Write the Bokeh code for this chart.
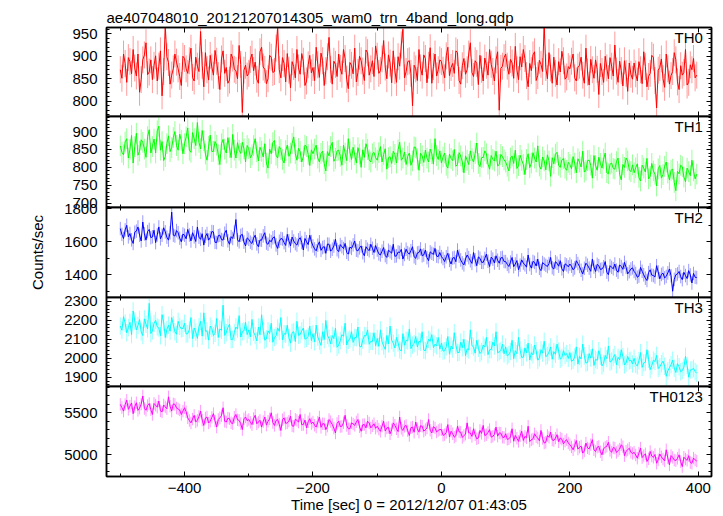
from bokeh.plotting import figure
from bokeh.layouts import column
from bokeh.models import (Range1d, LinearAxis, SingleIntervalTicker, Label, Title,
                          ColumnDataSource, CustomJSTickFormatter)
from bokeh.embed import file_html
from bokeh.resources import INLINE

title_text = "ae407048010_20121207014305_wam0_trn_4band_long.qdp"
x_label = "Time [sec] 0 = 2012/12/07 01:43:05"
y_label = "Counts/sec"

# bin centres, 2.5 s apart
time = [t / 2 for t in range(-1000, 800, 5)]

th0 = [870, 851, 905, 884, 842, 897, 888, 861, 915, 874, 856, 905, 820, 848, 892, 903, 930, 859, 865, 892,
       848, 880, 901, 845, 878, 912, 812, 866, 968, 899, 886, 838, 858, 872, 905, 887, 872, 855, 835, 900,
       895, 872, 862, 890, 918, 853, 845, 898, 878, 866, 955, 880, 832, 908, 870, 847, 902, 876, 858, 913,
       889, 857, 826, 894, 912, 862, 875, 840, 847, 905, 896, 871, 868, 850, 924, 882, 775, 869, 880, 856,
       862, 893, 905, 868, 887, 849, 840, 910, 920, 876, 871, 839, 850, 902, 898, 864, 866, 918, 965, 870,
       852, 897, 884, 843, 906, 869, 830, 888, 877, 852, 915, 874, 860, 906, 889, 835, 845, 881, 902, 863,
       875, 846, 920, 881, 853, 907, 890, 835, 868, 899, 942, 871, 838, 889, 882, 855, 905, 873, 860, 915,
       895, 849, 828, 886, 880, 861, 918, 843, 864, 900, 890, 867, 846, 914, 908, 858, 872, 890, 855, 923,
       900, 862, 868, 894, 935, 876, 850, 903, 885, 841, 912, 868, 842, 899, 878, 925, 960, 852, 866, 888,
       890, 862, 790, 880, 872, 846, 915, 874, 858, 903, 895, 841, 880, 919, 840, 877, 905, 856, 870, 892,
       888, 869, 852, 901, 920, 857, 875, 884, 862, 912, 908, 846, 838, 879, 895, 860, 870, 905, 930, 864,
       855, 890, 884, 837, 902, 871, 845, 896, 880, 858, 915, 882, 866, 845, 892, 910, 780, 873, 878, 897,
       905, 878, 860, 893, 885, 851, 922, 870, 848, 899, 876, 915, 895, 857, 832, 884, 868, 903, 910, 846,
       857, 891, 882, 866, 970, 875, 850, 908, 874, 840, 898, 862, 836, 888, 865, 911, 890, 849, 854, 877,
       872, 889, 905, 852, 845, 876, 880, 898, 858, 840, 918, 865, 836, 893, 870, 851, 892, 871, 815, 884,
       866, 842, 900, 874, 850, 897, 878, 856, 925, 867, 842, 889, 868, 834, 890, 862, 822, 885, 860, 849,
       885, 861, 845, 888, 870, 839, 910, 877, 832, 855, 862, 902, 898, 846, 785, 869, 875, 894, 850, 831,
       905, 872, 838, 857, 866, 908, 892, 843, 826, 879, 858, 864, 915, 836, 842, 881, 870, 895, 852, 858]

th1 = [860, 842, 835, 871, 880, 826, 850, 889, 812, 858, 895, 834, 845, 877, 870, 851, 828, 886, 905, 840,
       858, 879, 840, 902, 915, 848, 872, 819, 830, 866, 888, 844, 855, 883, 900, 861, 848, 893, 875, 838,
       866, 885, 910, 848, 842, 897, 880, 861, 925, 870, 852, 903, 874, 837, 820, 859, 890, 844, 845, 872,
       862, 835, 808, 866, 878, 851, 840, 883, 855, 827, 892, 848, 826, 869, 848, 839, 870, 852, 815, 861,
       852, 827, 835, 861, 880, 843, 818, 856, 845, 829, 866, 812, 798, 851, 838, 869, 875, 834, 826, 858,
       850, 822, 812, 847, 862, 831, 840, 867, 885, 838, 820, 853, 844, 815, 830, 862, 858, 836, 805, 849,
       838, 851, 862, 826, 815, 839, 845, 810, 790, 844, 832, 858, 870, 817, 825, 846, 848, 831, 806, 862,
       840, 819, 880, 843, 822, 856, 835, 812, 855, 837, 800, 849, 828, 866, 850, 821, 815, 838, 842, 827,
       820, 841, 858, 815, 836, 852, 795, 827, 830, 811, 845, 836, 812, 849, 870, 820, 826, 843, 808, 831,
       840, 806, 818, 857, 855, 823, 792, 839, 832, 814, 848, 826, 815, 851, 838, 809, 880, 833, 822, 846,
       812, 829, 840, 806, 798, 837, 825, 819, 850, 803, 808, 841, 832, 815, 785, 832, 820, 808, 846, 824,
       815, 839, 868, 811, 802, 827, 828, 846, 838, 809, 795, 833, 822, 818, 845, 804, 808, 836, 830, 821,
       815, 803, 790, 826, 832, 811, 848, 797, 805, 834, 820, 808, 780, 822, 838, 799, 812, 841, 826, 815,
       860, 804, 795, 829, 818, 793, 835, 818, 775, 827, 810, 837, 842, 806, 800, 821, 825, 798, 792, 814,
       808, 796, 830, 812, 785, 824, 815, 801, 845, 787, 792, 819, 820, 806, 770, 833, 805, 792, 828, 811,
       798, 823, 840, 785, 782, 809, 812, 797, 795, 816, 826, 780, 765, 808, 800, 826, 818, 793, 788, 807,
       785, 799, 810, 772, 762, 806, 798, 787, 825, 768, 775, 811, 790, 781, 748, 796, 805, 770, 780, 803,
       815, 784, 765, 792, 795, 758, 735, 789, 782, 806, 802, 773, 760, 798, 788, 777, 820, 790, 768, 781]

th2 = [1680, 1645, 1620, 1672, 1700, 1630, 1650, 1612, 1590, 1658, 1665, 1690, 1640, 1605, 1720, 1648, 1610, 1662, 1675, 1625,
       1630, 1670, 1595, 1642, 1690, 1618, 1640, 1685, 1660, 1628, 1610, 1655, 1780, 1640, 1635, 1668, 1655, 1622, 1600, 1647,
       1640, 1618, 1675, 1641, 1605, 1655, 1630, 1602, 1690, 1628, 1615, 1649, 1580, 1633, 1650, 1610, 1625, 1662, 1660, 1597,
       1595, 1637, 1640, 1614, 1610, 1652, 1670, 1606, 1585, 1631, 1620, 1658, 1735, 1612, 1600, 1639, 1645, 1598, 1575, 1624,
       1615, 1598, 1590, 1622, 1640, 1587, 1570, 1611, 1610, 1636, 1655, 1592, 1585, 1609, 1600, 1624, 1630, 1581, 1560, 1603,
       1620, 1617, 1595, 1578, 1645, 1606, 1575, 1629, 1605, 1589, 1580, 1612, 1625, 1596, 1550, 1620, 1600, 1583, 1640, 1601,
       1575, 1557, 1545, 1579, 1600, 1548, 1565, 1571, 1530, 1586, 1585, 1543, 1555, 1574, 1615, 1552, 1540, 1583, 1570, 1559,
       1590, 1536, 1525, 1568, 1560, 1581, 1605, 1549, 1545, 1563, 1575, 1534, 1515, 1570, 1555, 1546, 1585, 1561, 1535, 1577,
       1550, 1527, 1520, 1543, 1565, 1516, 1505, 1549, 1540, 1531, 1585, 1512, 1515, 1538, 1535, 1554, 1495, 1523, 1555, 1534,
       1525, 1546, 1570, 1509, 1500, 1532, 1535, 1557, 1515, 1520, 1550, 1504, 1485, 1539, 1530, 1524, 1560, 1513, 1510, 1535,
       1510, 1498, 1480, 1509, 1530, 1487, 1465, 1501, 1505, 1479, 1550, 1513, 1490, 1472, 1460, 1496, 1520, 1504, 1485, 1469,
       1535, 1491, 1455, 1508, 1500, 1476, 1475, 1499, 1525, 1482, 1450, 1507, 1495, 1471, 1515, 1488, 1470, 1502, 1505, 1480,
       1480, 1463, 1450, 1477, 1505, 1449, 1465, 1486, 1430, 1458, 1490, 1471, 1460, 1446, 1520, 1462, 1440, 1481, 1475, 1453,
       1495, 1439, 1425, 1474, 1465, 1457, 1450, 1468, 1505, 1443, 1435, 1479, 1470, 1452, 1485, 1436, 1420, 1466, 1460, 1448,
       1465, 1452, 1430, 1441, 1485, 1468, 1450, 1427, 1405, 1439, 1470, 1458, 1440, 1421, 1495, 1447, 1420, 1463, 1455, 1432,
       1435, 1449, 1480, 1416, 1400, 1455, 1445, 1436, 1465, 1428, 1415, 1460, 1450, 1433, 1475, 1445, 1405, 1419, 1435, 1442,
       1420, 1408, 1385, 1392, 1445, 1421, 1400, 1379, 1365, 1413, 1430, 1398, 1395, 1386, 1455, 1417, 1375, 1402, 1410, 1381,
       1390, 1411, 1435, 1394, 1300, 1372, 1400, 1405, 1420, 1389, 1370, 1415, 1395, 1377, 1425, 1399, 1350, 1408, 1385, 1383]

th3 = [2170, 2148, 2220, 2186, 2135, 2162, 2190, 2125, 2250, 2197, 2150, 2173, 2205, 2139, 2120, 2208, 2180, 2156, 2290, 2131,
       2145, 2184, 2200, 2166, 2160, 2119, 2230, 2190, 2110, 2152, 2175, 2143, 2215, 2178, 2140, 2127, 2195, 2169, 2155, 2158,
       2185, 2128, 2130, 2151, 2215, 2104, 2160, 2139, 2105, 2166, 2195, 2117, 2240, 2143, 2145, 2096, 2170, 2157, 2120, 2132,
       2210, 2110, 2155, 2148, 2280, 2121, 2135, 2163, 2180, 2098, 2100, 2136, 2165, 2154, 2225, 2112, 2140, 2145, 2190, 2125,
       2150, 2113, 2205, 2138, 2120, 2092, 2165, 2124, 2230, 2147, 2095, 2103, 2145, 2131, 2185, 2085, 2110, 2119, 2160, 2142,
       2215, 2098, 2130, 2127, 2175, 2109, 2080, 2136, 2140, 2088, 2195, 2121, 2125, 2145, 2160, 2101, 2105, 2116, 2170, 2094,
       2130, 2087, 2175, 2112, 2090, 2068, 2140, 2099, 2200, 2121, 2105, 2076, 2120, 2104, 2160, 2058, 2070, 2093, 2125, 2116,
       2185, 2071, 2095, 2102, 2140, 2084, 2110, 2109, 2165, 2063, 2060, 2096, 2120, 2118, 2150, 2074, 2090, 2089, 2135, 2066,
       2105, 2063, 2150, 2088, 2065, 2047, 2120, 2076, 2170, 2095, 2080, 2054, 2110, 2081, 2045, 2039, 2130, 2069, 2095, 2092,
       2155, 2051, 2070, 2078, 2115, 2060, 2090, 2085, 2140, 2043, 2040, 2072, 2100, 2090, 2125, 2056, 2075, 2066, 2110, 2048,
       2080, 2038, 2040, 2061, 2115, 2022, 2065, 2049, 2135, 2070, 2030, 2031, 2085, 2056, 2100, 2014, 2050, 2044, 2150, 2067,
       2060, 2027, 2095, 2053, 2025, 2035, 2070, 2059, 2110, 2019, 2045, 2046, 2085, 2065, 2140, 2029, 2035, 2041, 2075, 2024,
       2060, 2012, 2020, 2036, 2095, 1998, 2040, 2024, 2110, 2043, 2005, 2006, 2055, 2029, 2080, 1991, 2030, 2018, 2070, 2040,
       1990, 2002, 2045, 2027, 2090, 2009, 2015, 2033, 2060, 1995, 2035, 2021, 2075, 2038, 1995, 2004, 2040, 2015, 2025, 1999,
       2030, 1984, 1990, 2007, 2060, 1969, 2010, 1996, 2075, 2013, 1975, 1978, 2025, 2001, 2050, 1962, 1995, 1989, 2040, 2010,
       1960, 1973, 2015, 1998, 2065, 1980, 1985, 2004, 2020, 1966, 2005, 1992, 2045, 2009, 1965, 1975, 2010, 1986, 1990, 1970,
       2000, 1968, 1960, 1987, 2030, 1952, 1975, 1979, 2045, 1995, 1940, 1961, 1990, 1983, 2015, 1946, 1955, 1971, 1985, 1958,
       1905, 1934, 1950, 1966, 1990, 1948, 1925, 1972, 1955, 1929, 1935, 1953, 2010, 1962, 1900, 1938, 1940, 1947, 1930, 1921]

th0123 = [5600, 5562, 5520, 5598, 5650, 5541, 5580, 5617, 5490, 5573, 5620, 5529, 5555, 5604, 5700, 5551, 5530, 5586, 5610, 5538,
          5480, 5611, 5590, 5567, 5640, 5523, 5510, 5593, 5570, 5548, 5690, 5579, 5520, 5606, 5600, 5557, 5545, 5534, 5480, 5521,
          5560, 5512, 5440, 5408, 5380, 5426, 5470, 5392, 5410, 5457, 5520, 5414, 5350, 5438, 5450, 5379, 5400, 5445, 5490, 5403,
          5330, 5421, 5440, 5466, 5560, 5398, 5390, 5436, 5430, 5381, 5370, 5449, 5480, 5417, 5410, 5372, 5300, 5428, 5450, 5406,
          5420, 5387, 5360, 5432, 5470, 5369, 5390, 5411, 5330, 5396, 5450, 5353, 5400, 5427, 5500, 5384, 5350, 5409, 5420, 5362,
          5290, 5418, 5440, 5375, 5380, 5401, 5460, 5344, 5340, 5423, 5410, 5389, 5480, 5358, 5360, 5414, 5320, 5393, 5430, 5371,
          5390, 5352, 5330, 5388, 5450, 5327, 5370, 5369, 5300, 5341, 5420, 5395, 5360, 5318, 5260, 5374, 5400, 5336, 5340, 5382,
          5470, 5349, 5310, 5311, 5380, 5367, 5350, 5392, 5420, 5333, 5280, 5358, 5360, 5321, 5400, 5379, 5320, 5345, 5370, 5316,
          5340, 5306, 5280, 5341, 5400, 5283, 5320, 5327, 5250, 5298, 5380, 5352, 5310, 5276, 5450, 5315, 5290, 5338, 5350, 5287,
          5230, 5323, 5330, 5269, 5390, 5309, 5270, 5346, 5340, 5281, 5300, 5318, 5420, 5293, 5260, 5334, 5320, 5272, 5290, 5301,
          5300, 5232, 5240, 5268, 5360, 5214, 5280, 5251, 5210, 5226, 5340, 5273, 5270, 5207, 5230, 5245, 5380, 5261, 5260, 5219,
          5310, 5238, 5190, 5202, 5290, 5255, 5350, 5229, 5240, 5266, 5300, 5211, 5220, 5243, 5330, 5222, 5260, 5258, 5210, 5205,
          5250, 5184, 5190, 5213, 5310, 5162, 5230, 5197, 5160, 5225, 5280, 5171, 5220, 5203, 5340, 5158, 5180, 5189, 5250, 5216,
          5200, 5167, 5290, 5194, 5140, 5149, 5230, 5208, 5270, 5176, 5170, 5199, 5240, 5155, 5200, 5186, 5130, 5163, 5180, 5141,
          5120, 5094, 5060, 5112, 5170, 5068, 5090, 5105, 5020, 5047, 5140, 5083, 5070, 5121, 5180, 5059, 5040, 5091, 5100, 5037,
          5000, 5074, 5090, 5102, 5150, 5052, 5030, 5086, 5080, 5028, 5050, 5069, 5120, 5097, 4990, 5043, 5060, 5078, 5030, 5016,
          5030, 4998, 4960, 5021, 5080, 4967, 4990, 5012, 4920, 4953, 5040, 4985, 4970, 5004, 4900, 4942, 5010, 4976, 4950, 4928,
          5060, 4963, 4880, 4991, 4970, 4938, 4930, 4958, 5000, 4919, 4860, 4972, 4950, 4935, 4990, 4908, 4900, 4961, 4940, 4926]

series = [th0, th1, th2, th3, th0123]
errors = [30, 29, 41, 46, 74]
names = ["TH0", "TH1", "TH2", "TH3", "TH0123"]
colors = ["#ff0000", "#00ff00", "#0000ff", "#00ffff", "#ff00ff"]
y_ranges = [(766, 964), (688, 942), (1262, 1808), (1851, 2321), (4742, 5813)]
y_major = [50, 50, 200, 100, 500]
y_minor_n = [5, 5, 2, 5, 5]
x_ticks = [-400, -200, 0, 200, 400]
x_tick_labels = ["\u2212400", "\u2212200", "0", "200", "400"]

FONT = "Liberation Sans"
frame_h = [89, 91, 90, 89, 90]
x_range = Range1d(-521.5, 420.5)
blank = CustomJSTickFormatter(code="return ''")
PAD = 10   # transparent overlap band between stacked panels


def style_axis(ax, ticker, labels):
    ax.ticker = ticker
    ax.major_tick_in = 5
    ax.major_tick_out = 0
    ax.minor_tick_in = 3
    ax.minor_tick_out = 0
    ax.axis_line_color = "black"
    ax.axis_line_width = 1.5
    ax.major_tick_line_color = "black"
    ax.minor_tick_line_color = "black"
    if labels:
        ax.major_label_text_font = FONT
        ax.major_label_text_font_size = "15px"
        ax.major_label_text_color = "black"
    else:
        ax.formatter = blank
        ax.major_label_standoff = 0


figs = []
for i in range(5):
    y0, y1 = y_ranges[i]
    p = figure(frame_width=605, frame_height=frame_h[i], x_range=x_range, y_range=Range1d(y0, y1),
               output_backend="svg", toolbar_location=None,
               min_border_left=106, min_border_right=6,
               min_border_top=(27 if i == 0 else PAD), min_border_bottom=(40 if i == 4 else PAD),
               margin=((0, 0, 0, 0) if i == 0 else (-2 * PAD, 0, 0, 0)))
    p.background_fill_color = "white"
    p.border_fill_alpha = 0
    p.outline_line_color = "black"
    p.outline_line_width = 1.5
    p.xgrid.visible = False
    p.ygrid.visible = False

    style_axis(p.xaxis[0], SingleIntervalTicker(interval=200, num_minor_ticks=2), i == 4)
    if i == 4:
        p.xaxis[0].major_label_overrides = dict(zip(x_ticks, x_tick_labels))
        p.xaxis[0].major_label_standoff = 6
        p.xaxis[0].axis_label = x_label
        p.xaxis[0].axis_label_text_font = FONT
        p.xaxis[0].axis_label_text_font_size = "15px"
        p.xaxis[0].axis_label_text_font_style = "normal"
        p.xaxis[0].axis_label_text_color = "black"
        p.xaxis[0].axis_label_standoff = 0
    style_axis(p.yaxis[0], SingleIntervalTicker(interval=y_major[i], num_minor_ticks=y_minor_n[i]), True)
    p.yaxis[0].major_label_standoff = 9

    top_ax = LinearAxis()
    style_axis(top_ax, SingleIntervalTicker(interval=200, num_minor_ticks=2), False)
    p.add_layout(top_ax, "above")
    right_ax = LinearAxis()
    style_axis(right_ax, SingleIntervalTicker(interval=y_major[i], num_minor_ticks=y_minor_n[i]), False)
    p.add_layout(right_ax, "right")

    if i == 2:
        p.yaxis[0].axis_label = y_label
        p.yaxis[0].axis_label_text_font = FONT
        p.yaxis[0].axis_label_text_font_size = "15px"
        p.yaxis[0].axis_label_text_font_style = "normal"
        p.yaxis[0].axis_label_text_color = "black"
        p.yaxis[0].axis_label_standoff = 15

    vals = series[i]
    src = ColumnDataSource(dict(t=time, v=vals,
                                lo=[v - errors[i] for v in vals],
                                hi=[v + errors[i] for v in vals]))
    p.segment(x0="t", y0="lo", x1="t", y1="hi", source=src, line_color=colors[i], line_alpha=0.4, line_width=1)
    p.line(x="t", y="v", source=src, line_color=colors[i], line_width=1)

    py = (y1 - y0) / frame_h[i]
    p.add_layout(Label(x=407, y=y1 - 1.5 * py, text=names[i], text_align="right", text_baseline="top",
                       text_font=FONT, text_font_size="15px", text_color="black"))

    if i == 0:
        t = Title(text=title_text, align="left", text_font=FONT, text_font_size="15px",
                  text_font_style="normal", text_color="black", standoff=4)
        p.add_layout(t, "above")
    figs.append(p)

layout = column(*figs, spacing=0)
open("out.html", "w").write(file_html(layout, INLINE))
